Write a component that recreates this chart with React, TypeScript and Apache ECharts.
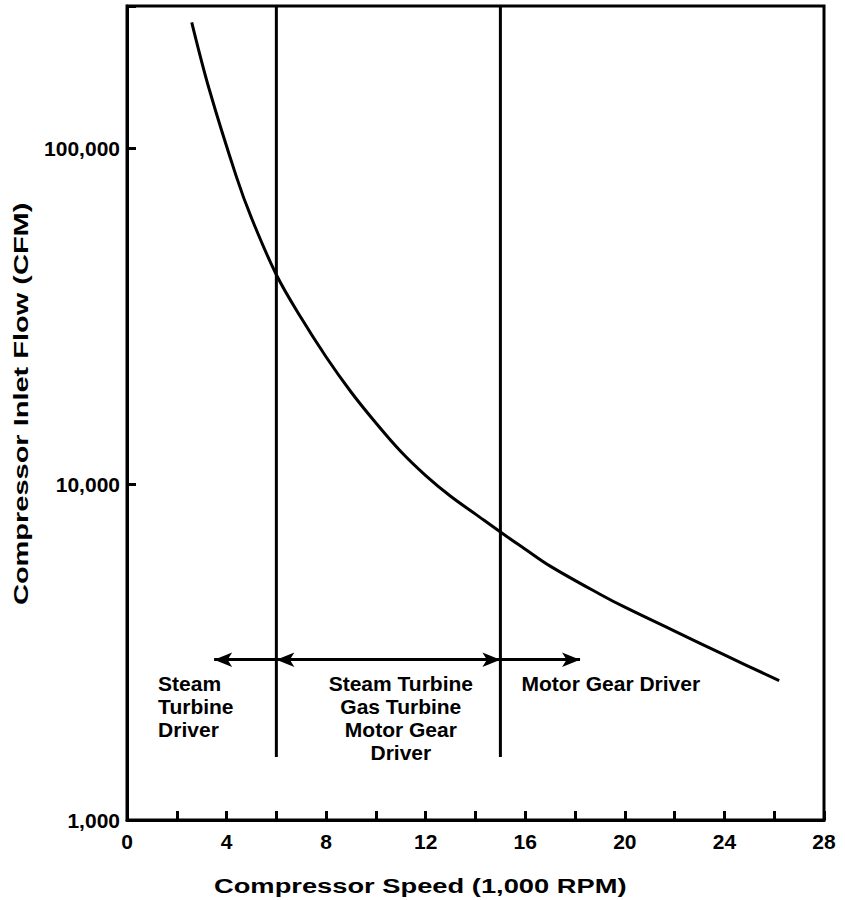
import React, { useEffect, useRef } from "react";
import * as echarts from "echarts";

// Curve: compressor speed (1,000 RPM) vs compressor inlet flow (CFM)
const speedK = [2.6, 3.3, 4.4, 5.0, 6.0, 7.0, 8.0, 9.0, 10.0, 11.0, 12.0, 13.0, 14.0, 15.0, 16.0, 17.0, 19.0, 20.0, 22.0, 24.0, 26.2];
const flowCfm = [237000, 150000, 82000, 62000, 42000, 31200, 23900, 18800, 15200, 12500, 10600, 9200, 8140, 7200, 6400, 5700, 4700, 4300, 3650, 3100, 2600];

// Driver-range dividers (vertical lines)
const dividerSpeeds = [6, 15];
const dividerFlowLow = 1540;
const flowMax = 265000;
const flowMin = 1000;

// Arrows
const arrowFlow = 3000;
const arrowFrom = [6, 6, 15];
const arrowTo = [3.5, 15, 18.2];
const arrowStartHead = [false, true, false];

// Annotation texts
const annoText = ["Steam\nTurbine\nDriver", "Steam Turbine\nGas Turbine\nMotor Gear\nDriver", "Motor Gear Driver"];
const annoSpeed = [1.25, 11.0, 15.85];
const annoFlow = [2760, 2760, 2760];
const annoAlign = ["left", "center", "left"];

const xTickValues = [0, 4, 8, 12, 16, 20, 24, 28];
const xTitle = "Compressor Speed (1,000 RPM)";
const yTitle = "Compressor Inlet Flow (CFM)";

const FONT = "'Liberation Sans', Arial, sans-serif";

export default function App() {
  const ref = useRef<HTMLDivElement>(null);
  useEffect(() => {
    document.body.style.margin = "0";
    if (!ref.current) return;
    const chart = echarts.init(ref.current, null, { renderer: "svg" });

    const curve = speedK.map((s, i) => [s, flowCfm[i]]);

    const dividerSeries = dividerSpeeds.map((s) => ({
      type: "line",
      data: [
        [s, dividerFlowLow],
        [s, flowMax],
      ],
      showSymbol: false,
      symbol: "none",
      silent: true,
      lineStyle: { color: "#000", width: 3 },
      z: 3,
    }));

    const arrowLines = arrowFrom.map((f, i) => [
      { coord: [f, arrowFlow], symbol: arrowStartHead[i] ? "arrow" : "none", symbolSize: [11, 18] },
      { coord: [arrowTo[i], arrowFlow], symbol: "arrow", symbolSize: [11, 18] },
    ]);

    const annoPoints = annoText.map((t, i) => ({
      coord: [annoSpeed[i], annoFlow[i]],
      symbol: "circle",
      symbolSize: 0,
      label: {
        show: true,
        position: [0, 0],
        formatter: t,
        align: annoAlign[i],
        verticalAlign: "top",
        color: "#000",
        fontFamily: FONT,
        fontWeight: "bold",
        fontSize: 21,
        lineHeight: 23,
      },
    }));

    chart.setOption({
      animation: false,
      backgroundColor: "#fff",
      grid: {
        left: 127,
        right: 21,
        top: 6,
        bottom: 80,
        show: true,
        borderColor: "#000",
        borderWidth: 3,
        backgroundColor: "transparent",
      },
      xAxis: {
        type: "value",
        min: 0,
        max: 28,
        interval: 2,
        axisLine: { show: true, lineStyle: { color: "#000", width: 3 } },
        axisTick: { show: true, inside: true, length: 9, lineStyle: { color: "#000", width: 3 } },
        splitLine: { show: false },
        axisLabel: {
          margin: 11,
          color: "#000",
          fontFamily: FONT,
          fontWeight: "bold",
          fontSize: 21,
          formatter: (v: number) => (xTickValues.indexOf(Math.round(v)) >= 0 && Math.abs(v - Math.round(v)) < 1e-6 ? String(Math.round(v)) : ""),
        },
      },
      yAxis: {
        type: "log",
        logBase: 10,
        min: flowMin,
        max: flowMax,
        axisLine: { show: true, lineStyle: { color: "#000", width: 3 } },
        axisTick: { show: true, inside: true, length: 9, lineStyle: { color: "#000", width: 3 } },
        minorTick: { show: false },
        splitLine: { show: false },
        axisLabel: {
          margin: 7,
          color: "#000",
          fontFamily: FONT,
          fontWeight: "bold",
          fontSize: 21,
          formatter: (v: number) => {
            const l = Math.log10(v);
            if (Math.abs(l - Math.round(l)) > 1e-6) return "";
            return Math.round(Math.pow(10, Math.round(l))).toLocaleString("en-US");
          },
        },
      },
      graphic: [
        {
          type: "text",
          x: 214,
          y: 886,
          scaleX: 1.3,
          style: { text: xTitle, fill: "#000", font: `bold 21px ${FONT}`, textAlign: "left", textVerticalAlign: "middle" },
        },
        {
          type: "text",
          x: 21,
          y: 605,
          rotation: Math.PI / 2,
          scaleX: 1.38,
          style: { text: yTitle, fill: "#000", font: `bold 21px ${FONT}`, textAlign: "left", textVerticalAlign: "middle" },
        },
      ],
      series: [
        {
          type: "line",
          data: curve,
          smooth: 0.35,
          showSymbol: false,
          symbol: "none",
          silent: true,
          lineStyle: { color: "#000", width: 3 },
          z: 4,
          markLine: {
            silent: true,
            label: { show: false },
            lineStyle: { color: "#000", width: 3, type: "solid" },
            emphasis: { disabled: true },
            data: arrowLines,
          },
          markPoint: {
            silent: true,
            data: annoPoints,
          },
        },
        ...dividerSeries,
      ],
    });
    return () => chart.dispose();
  }, []);
  return <div ref={ref} style={{ width: 845, height: 900 }} />;
}
